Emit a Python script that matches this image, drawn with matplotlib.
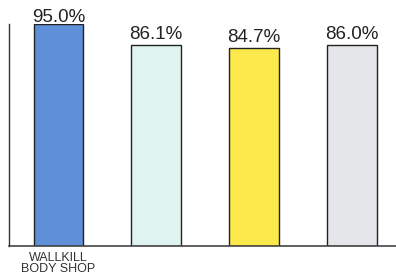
import matplotlib.pyplot as plt

categories = ["WALLKILL\nBODY SHOP", "", "", ""]
values = [95.0, 86.1, 84.7, 86.0]
labels = ["95.0%", "86.1%", "84.7%", "86.0%"]
colors = ["#5e8fd8", "#dff3f0", "#fce94c", "#e5e6ea"]

plt.rcParams['font.family'] = ['Liberation Sans', 'DejaVu Sans']

fig = plt.figure(figsize=(3.96, 2.74), dpi=100)
ax = fig.add_axes([9 / 396, 1 - 246 / 274, 1 - 9 / 396, (246 - 24) / 274])

x = list(range(len(values)))
bars = ax.bar(x, values, width=0.51, color=colors, edgecolor="#222222", linewidth=1.0)

# first label in the original sits right on the bar top
offsets = [-1.5, 1.5, 1.5, 1.5]
for b, lab, dy in zip(bars, labels, offsets):
    ax.annotate(lab, xy=(b.get_x() + b.get_width() / 2, b.get_height()),
                xytext=(0, dy), textcoords="offset points",
                ha="center", va="bottom", fontsize=13.5, color="#222222",
                annotation_clip=False, zorder=5)

ax.set_xlim(-0.507, 3.454)
ax.set_ylim(0, 95)
ax.set_xticks(x)
ax.set_xticklabels(categories, fontsize=9, linespacing=0.95, color="#333333")
ax.tick_params(axis="x", length=0, pad=4)
ax.set_yticks([])

for s in ["top", "right"]:
    ax.spines[s].set_visible(False)
ax.spines["left"].set_color("#333333")
ax.spines["bottom"].set_color("#444444")
ax.spines["left"].set_linewidth(1.0)
ax.spines["bottom"].set_linewidth(1.2)

fig.savefig("out.png", dpi=100)
